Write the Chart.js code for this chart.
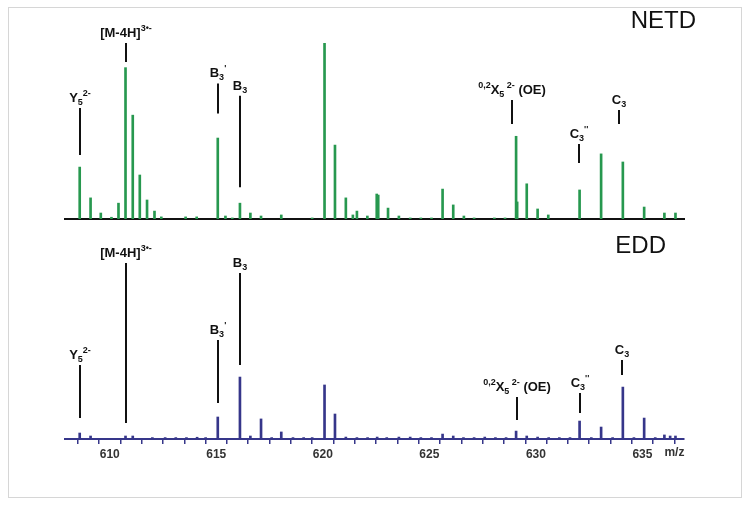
<!DOCTYPE html>
<html><head><meta charset="utf-8">
<script src="https://cdn.jsdelivr.net/npm/chart.js@4.4.1/dist/chart.umd.min.js"></script>
<style>
html,body{margin:0;padding:0;background:#fff;width:750px;height:507px;overflow:hidden}
#frame{position:absolute;left:8px;top:7px;width:734px;height:491px;border:1px solid #d6d6d6;box-sizing:border-box}
.wrap{position:absolute;left:0;width:750px}
#w1{top:0;height:230px}
#w2{top:230px;height:277px}
</style></head><body>
<div id="frame"></div>
<div class="wrap" id="w1"><canvas id="c1"></canvas></div>
<div class="wrap" id="w2"><canvas id="c2"></canvas></div>
<script>
// ---- data ----
const mzMin = 607.9, mzMax = 636.95;
const tickLabels = [610, 615, 620, 625, 630, 635];
const axisUnit = 'm/z';
const panelTitles = ['NETD', 'EDD'];

const netdMz = [608.59, 609.10, 609.58, 610.08, 610.41, 610.74, 611.08, 611.41, 611.75, 612.10, 612.42, 613.56, 614.08, 615.07, 615.43, 615.75, 616.11, 616.60, 617.10, 618.05, 619.50, 620.08, 620.57, 621.08, 621.41, 621.60, 622.09, 622.53, 622.60, 623.06, 623.57, 624.10, 624.60, 625.10, 625.62, 626.12, 626.62, 627.10, 628.05, 628.55, 629.07, 629.12, 629.57, 630.08, 630.58, 632.05, 633.06, 634.08, 635.08, 636.03, 636.55];
const netdInt = [29.5, 12, 3.4, 1, 9, 86, 59, 25, 10.8, 4.5, 1.2, 1.2, 1.2, 46, 1.7, 0.6, 9, 3.4, 1.7, 2.3, 0.6, 100, 42, 12, 2.3, 4.5, 1.7, 14.2, 13.6, 6.2, 1.7, 0.6, 0.6, 0.6, 17, 8, 1.7, 0.6, 0.6, 0.6, 47, 9.7, 20, 5.7, 2.3, 16.5, 37, 32.4, 6.8, 3.4, 3.4];

const eddMz = [608.59, 609.10, 610.74, 611.08, 612.00, 612.60, 613.10, 613.60, 614.10, 614.50, 615.07, 616.11, 616.60, 617.10, 617.60, 618.05, 618.60, 619.10, 619.50, 620.08, 620.57, 621.08, 621.60, 622.10, 622.55, 623.00, 623.57, 624.10, 624.60, 625.10, 625.62, 626.12, 626.60, 627.10, 627.60, 628.10, 628.60, 629.07, 629.57, 630.08, 630.60, 631.10, 631.60, 632.05, 632.60, 633.06, 633.60, 634.08, 634.60, 635.08, 635.60, 636.03, 636.30, 636.55];
const eddInt = [3.4, 1.7, 1.7, 1.7, 0.8, 0.8, 0.8, 0.8, 1.0, 0.8, 12.5, 35.2, 1.7, 11.4, 0.8, 4, 0.8, 0.8, 0.8, 30.7, 14.2, 1.1, 0.8, 0.8, 1.1, 0.8, 1.1, 1.1, 0.8, 0.8, 2.8, 1.7, 0.8, 0.8, 1.1, 0.8, 0.8, 4.5, 1.7, 1.1, 0.8, 0.8, 0.8, 10.2, 0.8, 6.8, 0.8, 29.5, 0.8, 11.9, 0.8, 2.3, 1.7, 1.7];

// annotation labels: [text, 'n' | 'sub' | 'sup']
const annLabels = [
  [['Y', 'n'], ['5', 'sub'], ['2-', 'sup']],
  [['[M-4H]', 'n'], ['3\u2022-', 'sup']],
  [['B', 'n'], ['3', 'sub'], ["'", 'sup']],
  [['B', 'n'], ['3', 'sub']],
  [['0,2', 'sup'], ['X', 'n'], ['5', 'sub'], [' 2-', 'sup'], [' (OE)', 'n']],
  [['C', 'n'], ['3', 'sub'], ["''", 'sup']],
  [['C', 'n'], ['3', 'sub']]
];
const annNetdMz   = [608.59, 610.74, 615.07, 616.11, 628.90, 632.00, 633.90];
const annNetdFrom = [36.4, 89.2, 60.0, 18.0, 54.0, 31.8, 54.0];
const annNetdTo   = [63.0, 100, 77.0, 70.0, 67.6, 42.6, 62.0];
const annEddMz    = [608.62, 610.75, 615.07, 616.10, 629.09, 632.05, 634.06];
const annEddFrom  = [11.9, 9.1, 20.5, 42.0, 10.8, 14.8, 36.4];
const annEddTo    = [42.0, 100, 56.3, 94.3, 23.9, 26.1, 44.9];

// ---- drawing helpers ----
const FONT = '"Liberation Sans", Arial, sans-serif';
function drawLabel(ctx, segs, cx, baseY) {
  const fontFor = k => (k === 'n' ? 'bold 13px ' : 'bold 9px ') + FONT;
  let w = 0;
  segs.forEach(([t, k]) => { ctx.font = fontFor(k); w += ctx.measureText(t).width; });
  let xx = cx - w / 2;
  ctx.textAlign = 'left';
  ctx.textBaseline = 'alphabetic';
  segs.forEach(([t, k]) => {
    ctx.font = fontFor(k);
    const dy = k === 'sub' ? 3 : (k === 'sup' ? -6 : 0);
    ctx.fillText(t, xx, baseY + dy);
    xx += ctx.measureText(t).width;
  });
}

const annotPlugin = {
  id: 'annot',
  afterDatasetsDraw(chart, args, opts) {
    const { ctx } = chart;
    const x = chart.scales.x, y = chart.scales.y;
    ctx.save();
    ctx.strokeStyle = '#111';
    ctx.fillStyle = '#111';
    ctx.lineWidth = 2;
    opts.mz.forEach((m, i) => {
      const px = Math.round(x.getPixelForValue(m));
      const y0 = y.getPixelForValue(opts.from[i]);
      const y1 = y.getPixelForValue(opts.to[i]);
      ctx.beginPath(); ctx.moveTo(px, y0); ctx.lineTo(px, y1); ctx.stroke();
      drawLabel(ctx, annLabels[i], px, y1 - 6);
    });
    ctx.font = '24px ' + FONT;
    ctx.textAlign = 'right';
    ctx.textBaseline = 'middle';
    ctx.fillText(opts.title, opts.titleX, opts.titleY);
    if (opts.unit) {
      ctx.font = 'bold 12px ' + FONT;
      ctx.fillStyle = '#333';
      ctx.textAlign = 'center';
      ctx.textBaseline = 'top';
      ctx.fillText(axisUnit, x.getPixelForValue(636.5), x.top + 8);
    }
    ctx.restore();
  }
};

const GREEN = '#27984f';
const NAVY = '#36368a';

function toPts(mz, it) { return mz.map((m, i) => ({ x: m, y: it[i] })); }

new Chart(document.getElementById('c1'), {
  type: 'bar',
  data: { datasets: [{ data: toPts(netdMz, netdInt), backgroundColor: GREEN, borderWidth: 0, barThickness: 2 }] },
  options: {
    responsive: true, maintainAspectRatio: false, animation: false, devicePixelRatio: 1,
    layout: { padding: { left: 65, right: 66, top: 43, bottom: 11 } },
    plugins: {
      legend: { display: false }, tooltip: { enabled: false },
      annot: { mz: annNetdMz, from: annNetdFrom, to: annNetdTo, title: panelTitles[0], titleX: 696, titleY: 21 }
    },
    scales: {
      x: { type: 'linear', min: mzMin, max: mzMax, offset: false,
           ticks: { display: false }, grid: { display: false },
           border: { display: true, color: '#111', width: 2 },
           afterFit: s => { s.height = 0; } },
      y: { display: false, min: 0, max: 100 }
    }
  },
  plugins: [annotPlugin]
});

new Chart(document.getElementById('c2'), {
  type: 'bar',
  data: { datasets: [{ data: toPts(eddMz, eddInt), backgroundColor: NAVY, borderWidth: 0, barThickness: 2 }] },
  options: {
    responsive: true, maintainAspectRatio: false, animation: false, devicePixelRatio: 1,
    layout: { padding: { left: 65, right: 66, top: 33, bottom: 38 } },
    plugins: {
      legend: { display: false }, tooltip: { enabled: false },
      annot: { mz: annEddMz, from: annEddFrom, to: annEddTo, title: panelTitles[1], titleX: 666, titleY: 16, unit: true }
    },
    scales: {
      x: { type: 'linear', min: mzMin, max: mzMax, offset: false,
           ticks: { stepSize: 1, includeBounds: false, autoSkip: false, maxRotation: 0, padding: 3,
                    color: '#333', font: { family: FONT, size: 12, weight: 'bold' },
                    callback: v => (Math.abs(v - Math.round(v)) < 1e-6 && tickLabels.includes(Math.round(v))) ? String(Math.round(v)) : '' },
           grid: { drawOnChartArea: false, drawTicks: true, tickLength: 5, color: NAVY, lineWidth: 1.5 },
           border: { display: true, color: NAVY, width: 2 },
           afterFit: s => { s.height = 30; } },
      y: { display: false, min: 0, max: 100 }
    }
  },
  plugins: [annotPlugin]
});
</script>
</body></html>
